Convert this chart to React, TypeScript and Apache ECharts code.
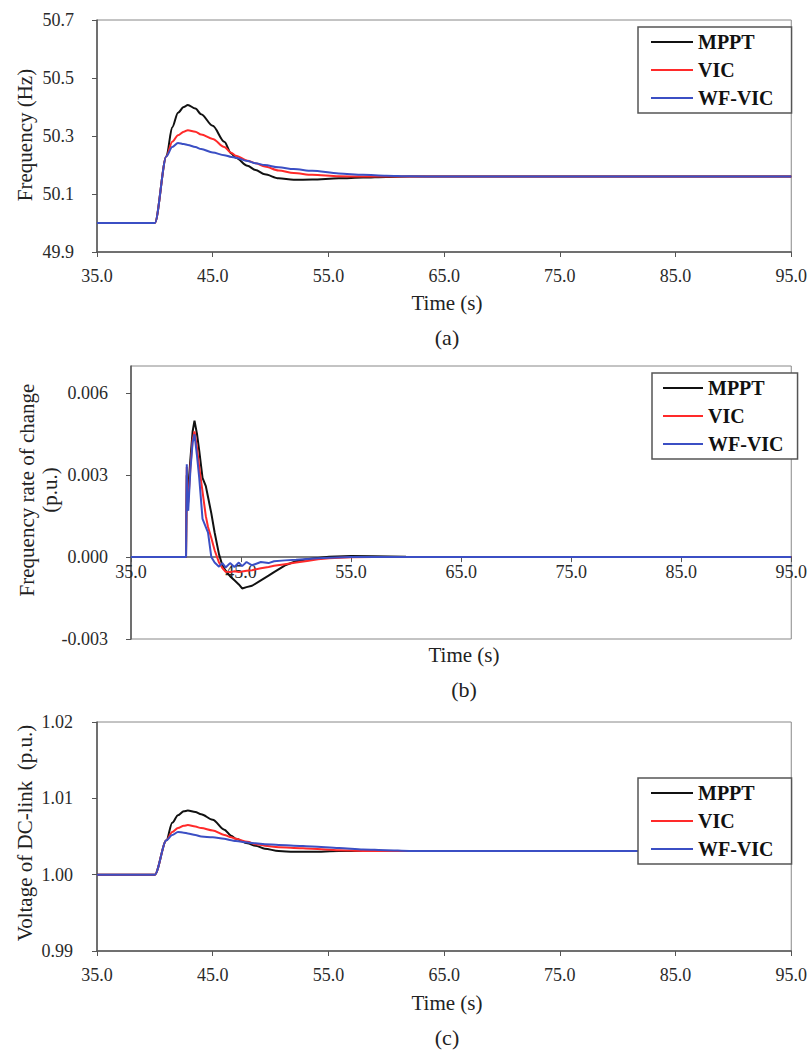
import React, { useEffect, useRef } from "react";
import * as echarts from "echarts";

const seriesNames = ["MPPT", "VIC", "WF-VIC"];
const seriesColors = ["#111111", "#ff2a2a", "#3b4fc4"];

const timeA = [35, 40, 41, 41.5, 42, 42.5, 42.85, 43.5, 44, 45, 46, 46.6, 47, 48, 48.7, 49.5, 50.7, 52, 53.6, 55.9, 58, 60, 62, 65, 95];
const mpptA = [50.0, 50.0, 50.23, 50.33, 50.38, 50.40, 50.407, 50.395, 50.375, 50.335, 50.28, 50.24, 50.225, 50.197, 50.183, 50.168, 50.154, 50.149, 50.15, 50.154, 50.157, 50.159, 50.16, 50.16, 50.16];
const vicA = [50.0, 50.0, 50.23, 50.28, 50.303, 50.315, 50.32, 50.315, 50.305, 50.29, 50.262, 50.242, 50.232, 50.215, 50.206, 50.195, 50.181, 50.172, 50.166, 50.161, 50.16, 50.16, 50.16, 50.16, 50.16];
const wfA = [50.0, 50.0, 50.23, 50.262, 50.276, 50.272, 50.269, 50.262, 50.255, 50.243, 50.234, 50.228, 50.225, 50.214, 50.206, 50.2, 50.192, 50.186, 50.18, 50.171, 50.166, 50.163, 50.161, 50.16, 50.16];

const timeB = [35, 40.0, 40.07, 40.12, 40.2, 40.4, 40.6, 40.77, 41.0, 41.2, 41.5, 41.8, 42.0, 42.3, 42.6, 43.0, 43.3, 43.6, 44.0, 44.4, 44.8, 45.1, 45.5, 46.0, 46.8, 47.5, 48.0, 49.0, 50.0, 51.0, 52.0, 53.0, 55.0, 57.0, 60.0, 65.0, 95.0];
const mpptB = [0, 0, 0.003, 0.0025, 0.0025, 0.0036, 0.0046, 0.005, 0.0045, 0.0039, 0.0029, 0.0026, 0.0022, 0.0016, 0.0009, 0.0001, -0.0003, -0.0005, -0.0007, -0.00085, -0.001, -0.00115, -0.0011, -0.00105, -0.00085, -0.00068, -0.00055, -0.0003, -0.00015, -0.00008, -0.00003, 0.00001, 0.00004, 0.00003, 0.00001, 0, 0];
const vicB = [0, 0, 0.0033, 0.0022, 0.002, 0.0033, 0.0043, 0.0046, 0.004, 0.0033, 0.0024, 0.0015, 0.0011, 0.0007, 0.00025, -0.0002, -0.0004, -0.00054, -0.00055, -0.00052, -0.00055, -0.00053, -0.0005, -0.00048, -0.00041, -0.00036, -0.00032, -0.00026, -0.0002, -0.00014, -0.00008, -0.00004, -0.00001, 0, 0, 0, 0];
const wfB = [0, 0, 0.0034, 0.0018, 0.0017, 0.0032, 0.0042, 0.0045, 0.0037, 0.0029, 0.0014, 0.0011, 0.0009, 0.0, -0.0002, -0.00035, -0.00022, -0.00038, -0.00022, -0.00036, -0.0002, -0.00033, -0.00018, -0.0003, -0.00018, -0.00022, -0.00015, -0.00012, -0.0001, -0.00007, -0.00004, -0.00002, 0, 0, 0, 0, 0];

const timeC = [35, 40, 41, 41.5, 42, 42.5, 42.85, 43.5, 44, 45, 46, 46.6, 47, 48, 48.7, 49.5, 50.7, 52, 53.6, 55.9, 58, 60, 62, 65, 95];
const mpptC = [1.0, 1.0, 1.0045, 1.0068, 1.0078, 1.0083, 1.0084, 1.0082, 1.0079, 1.0072, 1.0059, 1.0051, 1.0047, 1.0041, 1.0038, 1.0034, 1.0031, 1.003, 1.003, 1.0031, 1.0031, 1.0031, 1.0031, 1.0031, 1.0031];
const vicC = [1.0, 1.0, 1.0045, 1.0056, 1.0061, 1.0064, 1.0065, 1.0063, 1.0061, 1.0058, 1.0052, 1.0049, 1.0047, 1.0043, 1.004, 1.0038, 1.0036, 1.0035, 1.0034, 1.0032, 1.0031, 1.0031, 1.0031, 1.0031, 1.0031];
const wfC = [1.0, 1.0, 1.0045, 1.0052, 1.0056, 1.0055, 1.0054, 1.0052, 1.005, 1.0049, 1.0047, 1.0045, 1.0044, 1.0042, 1.0041, 1.004, 1.0039, 1.0038, 1.0037, 1.0035, 1.0033, 1.0032, 1.0031, 1.0031, 1.0031];

const yMinB = -0.003;
const yMaxB = 0.007;
const yTicksB = [-0.003, 0, 0.003, 0.006];

const FONT = '"Liberation Serif", "Times New Roman", Times, serif';

function pair(t: number[], v: number[]) {
  return t.map((x, i) => [x, v[i]]);
}

export default function App() {
  const ref = useRef<HTMLDivElement>(null);
  useEffect(() => {
    if (!ref.current) return;
    const chart = echarts.init(ref.current, null, { renderer: "svg" });

    const axisLine = { lineStyle: { color: "#555", width: 1.5 } };
    const labelStyle = { fontFamily: FONT, fontSize: 18, color: "#2a2a2a" };

    const gridB = { left: 131, top: 366, width: 666, height: 273 };
    const zeroOffsetB = -gridB.height * (0 - yMinB) / (yMaxB - yMinB);

    const xAxisBase = (gridIndex: number, margin: number, offset = 0) => ({
      type: "value",
      gridIndex,
      min: 35,
      max: 95,
      interval: 10,
      offset,
      splitLine: { show: false },
      axisLine: { ...axisLine, onZero: false },
      axisTick: { show: true, length: 5, lineStyle: { color: "#555" } },
      axisLabel: { ...labelStyle, margin, formatter: (v: number) => v.toFixed(1) },
    });

    const legendBase = (left: number, top: number, w: number, pad: number[]) => ({
      left,
      top,
      orient: "vertical",
      data: seriesNames,
      icon: "rect",
      itemWidth: w,
      itemHeight: 2,
      itemGap: 8,
      selectedMode: false,
      backgroundColor: "#fff",
      borderColor: "#555",
      borderWidth: 1.5,
      padding: pad,
      textStyle: { fontFamily: FONT, fontWeight: "bold", fontSize: 20, color: "#111", lineHeight: 20 },
    });

    const panels = [
      [mpptA, vicA, wfA, timeA],
      [mpptB, vicB, wfB, timeB],
      [mpptC, vicC, wfC, timeC],
    ];
    const series: any[] = [];
    panels.forEach((p, gi) => {
      const t = p[3] as number[];
      for (let k = 0; k < 3; k++) {
        series.push({
          type: "line",
          name: seriesNames[k],
          xAxisIndex: gi,
          yAxisIndex: gi,
          data: pair(t, p[k] as number[]),
          showSymbol: false,
          smooth: gi === 1 ? false : 0.3,
          smoothMonotone: "x",
          color: seriesColors[k],
          lineStyle: { color: seriesColors[k], width: 2 },
        });
      }
    });

    const text = (x: number, y: number, s: string, size: number, rot = 0, extra: any = {}) => ({
      type: "text",
      x,
      y,
      rotation: rot,
      style: {
        text: s,
        fontFamily: FONT,
        fontSize: size,
        fill: "#222",
        align: "center",
        verticalAlign: "middle",
        ...extra,
      },
    });

    chart.setOption({
      animation: false,
      backgroundColor: "#fff",
      grid: [
        { left: 97, top: 20, width: 698, height: 232, show: true, borderColor: "#888", borderWidth: 1 },
        { ...gridB, show: true, borderColor: "#888", borderWidth: 1 },
        { left: 97, top: 722, width: 698, height: 229, show: true, borderColor: "#888", borderWidth: 1 },
      ],
      xAxis: [xAxisBase(0, 15), xAxisBase(1, 6, zeroOffsetB), xAxisBase(2, 15)],
      yAxis: [
        {
          type: "value",
          gridIndex: 0,
          min: 49.9,
          max: 50.7,
          interval: 0.2,
          splitLine: { show: false },
          axisLine: { ...axisLine, onZero: false },
          axisTick: { show: true, length: 5, lineStyle: { color: "#555" } },
          axisLabel: { ...labelStyle, margin: 23, formatter: (v: number) => v.toFixed(1) },
        },
        {
          type: "value",
          gridIndex: 1,
          min: yMinB,
          max: yMaxB,
          splitLine: { show: false },
          axisLine: { ...axisLine, onZero: false },
          axisTick: { show: true, length: 5, lineStyle: { color: "#555" }, customValues: yTicksB },
          axisLabel: { ...labelStyle, margin: 23, customValues: yTicksB, formatter: (v: number) => v.toFixed(3) },
        },
        {
          type: "value",
          gridIndex: 2,
          min: 0.99,
          max: 1.02,
          interval: 0.01,
          splitLine: { show: false },
          axisLine: { ...axisLine, onZero: false },
          axisTick: { show: true, length: 5, lineStyle: { color: "#555" } },
          axisLabel: { ...labelStyle, margin: 24, formatter: (v: number) => v.toFixed(2) },
        },
      ],
      legend: [
        legendBase(638, 27, 42, [5, 18, 5, 13]),
        legendBase(652, 373, 40, [5, 14, 5, 11]),
        legendBase(638, 778, 42, [5, 18, 5, 13]),
      ],
      graphic: [
        text(25, 135, "Frequency (Hz)", 21, Math.PI / 2),
        text(38, 490, "Frequency rate of change\n(p.u.)", 21, Math.PI / 2, { lineHeight: 23 }),
        text(25, 833, "Voltage of DC-link  (p.u.)", 21, Math.PI / 2),
        text(447, 303, "Time (s)", 21),
        text(464, 655, "Time (s)", 21),
        text(447, 1003, "Time (s)", 21),
        text(447, 337, "(a)", 22),
        text(464, 689, "(b)", 22),
        text(447, 1037, "(c)", 22),
      ],
      series,
    });
    return () => chart.dispose();
  }, []);
  return (
    <div
      ref={ref}
      style={{ position: "fixed", left: 0, top: 0, width: 810, height: 1051, background: "#fff" }}
    />
  );
}
